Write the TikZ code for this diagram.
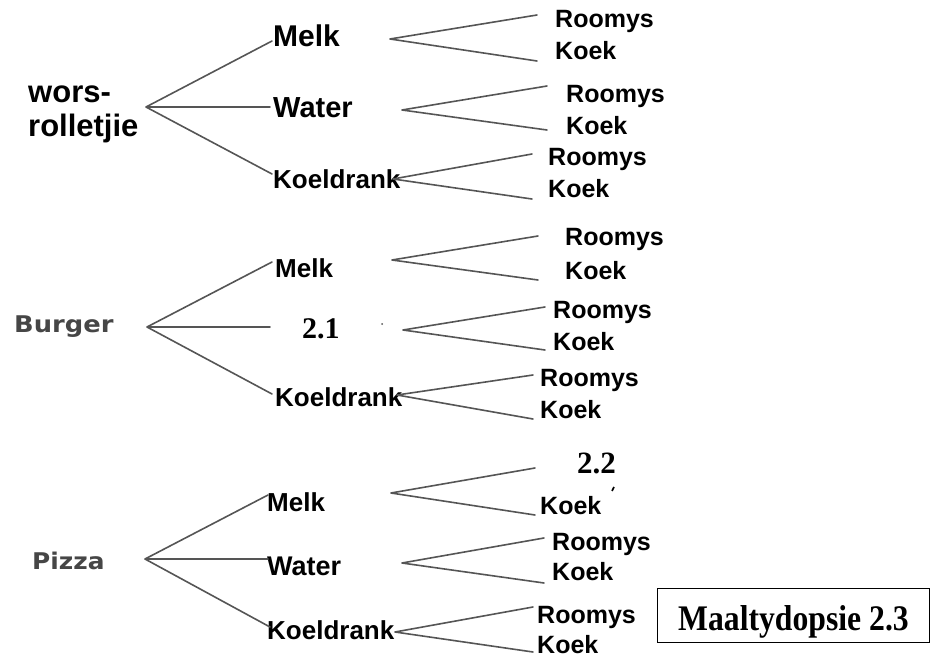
\documentclass[tikz,border=0pt]{standalone}
\usepackage{fontspec}
\usepackage{graphicx}
\setmainfont{Liberation Sans}
\newfontfamily\timesfam{Liberation Serif}
\newfontfamily\dvfam{DejaVu Sans}
\newcommand\fsz[1]{\fontsize{#1}{#1}\selectfont}
\definecolor{linec}{RGB}{85,85,85}
\definecolor{greytxt}{RGB}{70,70,70}
\tikzset{
  txt/.style={inner sep=0pt, anchor=base west, font=\bfseries},
  mid/.style={txt, font=\bfseries\fsz{#1}},
  leaf/.style={txt, font=\bfseries\fsz{25}},
  meal/.style={inner sep=0pt, anchor=base west, text=greytxt, font=\dvfam\bfseries\fsz{23}},
  num/.style={inner sep=0pt, anchor=base west, font=\timesfam\bfseries\fsz{30}},
  edge/.style={draw=linec, line width=1.6pt, line cap=round, line join=round}
}
\begin{document}
\begin{tikzpicture}[x=1pt,y=-1pt]
\useasboundingbox (0,0) rectangle (930,658);
% ---------------- top tree ----------------
\node[txt, font=\bfseries\fsz{31}, align=left] (w) at (28,137) {wors-\\[3pt]rolletjie};
\node[mid=30] (wm) at (273,47) {Melk};
\node[mid=29] (ww) at (273,118) {Water};
\node[mid=26] (wk) at (273,189) {Koeldrank};
\coordinate (wj) at (146,107);
\coordinate (wme) at (272,41);
\coordinate (wwe) at (270,107);
\coordinate (wke) at (272,174);
\draw[edge] (wme) -- (wj) -- (wke) (wj) -- (wwe);
% leaves
\node[leaf] (w1r) at (555,28) {Roomys};
\node[leaf] (w1k) at (555,60) {Koek};
\node[leaf] (w2r) at (566,103) {Roomys};
\node[leaf] (w2k) at (566,135) {Koek};
\node[leaf] (w3r) at (548,166) {Roomys};
\node[leaf] (w3k) at (548,197) {Koek};
\coordinate (w1j) at (390,39);
\coordinate (w1a) at (537,15);
\coordinate (w1b) at (537,61);
\coordinate (w2j) at (402,110);
\coordinate (w2a) at (547,86);
\coordinate (w2b) at (547,130);
\coordinate (w3j) at (393,179);
\coordinate (w3a) at (532,154);
\coordinate (w3b) at (532,199);
\draw[edge] (w1a) -- (w1j) -- (w1b);
\draw[edge] (w2a) -- (w2j) -- (w2b);
\draw[edge] (w3a) -- (w3j) -- (w3b);
% ---------------- burger tree ----------------
\node[meal] (b) at (14,332) {\scalebox{1.12}[1]{Burger}};
\node[mid=26] (bm) at (275,277) {Melk};
\node[num] (bn) at (302,338) {2.1};
\node[mid=26] (bk) at (275,406) {Koeldrank};
\coordinate (bj) at (147,327);
\coordinate (bme) at (272,262);
\coordinate (bwe) at (270,327);
\coordinate (bke) at (272,394);
\draw[edge] (bme) -- (bj) -- (bke) (bj) -- (bwe);
\fill[linec] (382,324) circle (1pt);
\node[leaf] (b1r) at (565,246) {Roomys};
\node[leaf] (b1k) at (565,279) {Koek};
\node[leaf] (b2r) at (553,318) {Roomys};
\node[leaf] (b2k) at (553,350) {Koek};
\node[leaf] (b3r) at (540,386) {Roomys};
\node[leaf] (b3k) at (540,418) {Koek};
\coordinate (b1j) at (392,260);
\coordinate (b1a) at (538,236);
\coordinate (b1b) at (538,280);
\coordinate (b2j) at (403,330);
\coordinate (b2a) at (545,307);
\coordinate (b2b) at (545,350);
\coordinate (b3j) at (397,395);
\coordinate (b3a) at (533,375);
\coordinate (b3b) at (533,419);
\draw[edge] (b1a) -- (b1j) -- (b1b);
\draw[edge] (b2a) -- (b2j) -- (b2b);
\draw[edge] (b3a) -- (b3j) -- (b3b);
% ---------------- pizza tree ----------------
\node[meal] (p) at (32,569) {\scalebox{1.08}[1]{Pizza}};
\node[mid=26] (pm) at (267,511) {Melk};
\node[mid=27] (pw) at (267,575) {Water};
\node[mid=26] (pk) at (267,639) {Koeldrank};
\coordinate (pj) at (145,559);
\coordinate (pme) at (268,495);
\coordinate (pwe) at (268,559);
\coordinate (pke) at (270,627);
\draw[edge] (pme) -- (pj) -- (pke) (pj) -- (pwe);
\node[num, font=\timesfam\bfseries\fsz{31}] (pn) at (577,473) {2.2};
\draw[line width=1.6pt, black] (612,491) -- (614,487);
\node[leaf] (p1k) at (540,514) {Koek};
\node[leaf] (p2r) at (552,550) {Roomys};
\node[leaf] (p2k) at (552,580) {Koek};
\node[leaf] (p3r) at (537,623) {Roomys};
\node[leaf] (p3k) at (537,653) {Koek};
\coordinate (p1j) at (391,493);
\coordinate (p1a) at (535,468);
\coordinate (p1b) at (535,515);
\coordinate (p2j) at (402,563);
\coordinate (p2a) at (544,538);
\coordinate (p2b) at (544,583);
\coordinate (p3j) at (395,632);
\coordinate (p3a) at (533,607);
\coordinate (p3b) at (533,652);
\draw[edge] (p1a) -- (p1j) -- (p1b);
\draw[edge] (p2a) -- (p2j) -- (p2b);
\draw[edge] (p3a) -- (p3j) -- (p3b);
% ---------------- box ----------------
\node[draw=black, line width=0.8pt, minimum width=272pt, minimum height=54pt, inner sep=0pt, anchor=north west] (box) at (657,588) {};
\node[num, font=\timesfam\bfseries\fsz{36}] (boxt) at (678,630) {\scalebox{0.88}[1]{Maaltydopsie 2.3}};
\end{tikzpicture}
\end{document}
